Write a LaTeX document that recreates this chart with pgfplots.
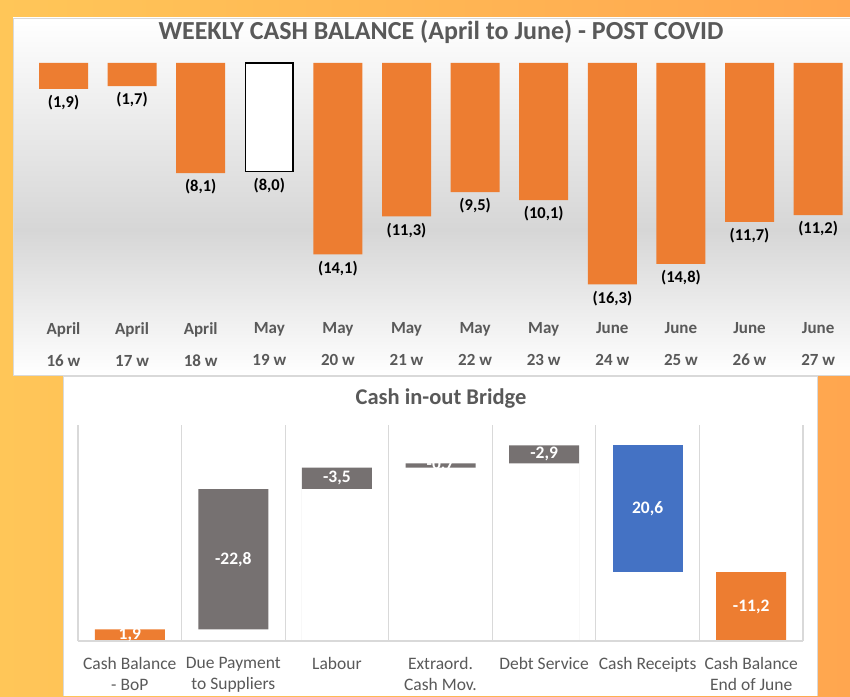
\documentclass[border=0pt]{standalone}
\usepackage{fontspec}
\setmainfont{Carlito}
\usepackage{pgfplots}
\pgfplotsset{compat=1.18}

\definecolor{bgL}{HTML}{FFC658}
\definecolor{bgR}{HTML}{FFA64F}
\definecolor{xlOrange}{HTML}{ED7D31}
\definecolor{xlGray}{HTML}{767171}
\definecolor{xlBlue}{HTML}{4472C4}
\definecolor{txtGray}{HTML}{595959}
\definecolor{lineGray}{HTML}{D9D9D9}
\definecolor{panelGray}{HTML}{D6D6D6}

\begin{document}
\begin{tikzpicture}[x=1pt,y=1pt]
\useasboundingbox (0,0) rectangle (850,696);
\shade[left color=bgL, right color=bgR] (0,0) rectangle (850,696);
% top panel
\shade[top color=white, bottom color=panelGray] (13,466) rectangle (850,678);
\shade[top color=panelGray, bottom color=white] (13,321) rectangle (850,466.5);
\draw[lineGray, line width=0.8pt] (850,321) -- (13,321) -- (13,678) -- (850,678);
% bottom panel
\fill[white] (63,0) rectangle (817,320);
\draw[lineGray, line width=0.8pt] (63,0) -- (63,320) -- (817,320) -- (817,0);

\node[font=\bfseries\fontsize{26}{30}\selectfont, text=txtGray] at (441,664)
  {WEEKLY CASH BALANCE (April to June) - POST COVID};
\node[font=\bfseries\fontsize{22.5}{26}\selectfont, text=txtGray] at (441,297)
  {Cash in-out Bridge};

% weekly balance
\begin{axis}[
    at={(36.06pt,633pt)}, anchor=north west,
    scale only axis, width=809.5pt, height=245pt,
    xmin=0.6, xmax=12.4, ymin=-18.04, ymax=0,
    axis line style={draw=none}, major tick length=0pt,
    ytick=\empty, xtick={1,...,12},
    xticklabels={{April\\[11.6pt]16 w},{April\\[11.6pt]17 w},{April\\[11.6pt]18 w},
      {May\\[11.6pt]19 w},{May\\[11.6pt]20 w},{May\\[11.6pt]21 w},{May\\[11.6pt]22 w},
      {May\\[11.6pt]23 w},{June\\[11.6pt]24 w},{June\\[11.6pt]25 w},{June\\[11.6pt]26 w},
      {June\\[11.6pt]27 w}},
    xticklabel style={font=\bfseries\fontsize{17}{20.4}\selectfont, text=txtGray,
      align=center, yshift=-11pt},
    clip=false,
    every node near coord/.append style={anchor=north, text=black, yshift=-3pt,
      font=\bfseries\fontsize{16.5}{19}\selectfont},
  ]
\addplot[ybar, bar width=49pt, bar shift=0pt, fill=xlOrange, draw=none,
  nodes near coords, point meta=explicit symbolic]
  coordinates {(1,-1.9) [{(1,9)}] (2,-1.7) [{(1,7)}] (3,-8.1) [{(8,1)}]
    (5,-14.1) [{(14,1)}] (6,-11.3) [{(11,3)}] (7,-9.5) [{(9,5)}]
    (8,-10.1) [{(10,1)}] (9,-16.3) [{(16,3)}] (10,-14.8) [{(14,8)}]
    (11,-11.7) [{(11,7)}] (12,-11.2) [{(11,2)}]};
\addplot[ybar, bar width=47.5pt, bar shift=0pt, fill=white, draw=black, line width=1.5pt,
  nodes near coords, point meta=explicit symbolic]
  coordinates {(4,-8.0) [{(8,0)}]};
\end{axis}

% bridge
\begin{axis}[
    at={(78pt,55pt)}, anchor=south west,
    scale only axis, width=725pt, height=216pt,
    xmin=-0.5, xmax=6.5, ymin=0, ymax=35.12,
    axis x line*=bottom, axis y line=none, ytick=\empty,
    x axis line style={lineGray, line width=1.2pt},
    xtick={0,...,6}, major tick length=0pt, minor tick length=0pt,
    minor xtick={-0.5,0.5,...,6.5}, xminorgrids,
    minor grid style={lineGray, line width=1.2pt},
    xticklabels={{Cash Balance\\- BoP},{Due Payment\\to Suppliers},Labour,
      {Extraord.\\Cash Mov.},Debt Service,Cash Receipts,{Cash Balance\\End of June}},
    xticklabel style={font=\fontsize{17.5}{21}\selectfont, text=txtGray,
      align=center, yshift=-13pt},
    axis on top, clip=false,
  ]
% bar tops
\addplot[ybar, bar width=70pt, bar shift=0pt, fill=xlOrange, draw=none]
  coordinates {(0,1.9) (6,11.2)};
\addplot[ybar, bar width=70pt, bar shift=0pt, fill=xlGray, draw=none]
  coordinates {(1,24.7) (2,28.2) (3,28.9) (4,31.8)};
\addplot[ybar, bar width=70pt, bar shift=0pt, fill=xlBlue, draw=none]
  coordinates {(5,31.8)};
% bar bases
\addplot[ybar, bar width=71pt, bar shift=0pt, fill=white, draw=none]
  coordinates {(1,1.9) (2,24.7) (3,28.2) (4,28.9) (5,11.2)};
% value labels
\addplot[draw=none, mark=none, nodes near coords, point meta=explicit symbolic,
  every node near coord/.append style={anchor=center, text=white,
    font=\bfseries\fontsize{17.5}{20}\selectfont}]
  coordinates {(0,0.95) [1,9] (1,13.3) [-22,8] (2,26.45) [-3,5] (3,28.55) [-0,7]
    (4,30.35) [-2,9] (5,21.5) [20,6] (6,5.6) [-11,2]};
\end{axis}
\end{tikzpicture}
\end{document}
